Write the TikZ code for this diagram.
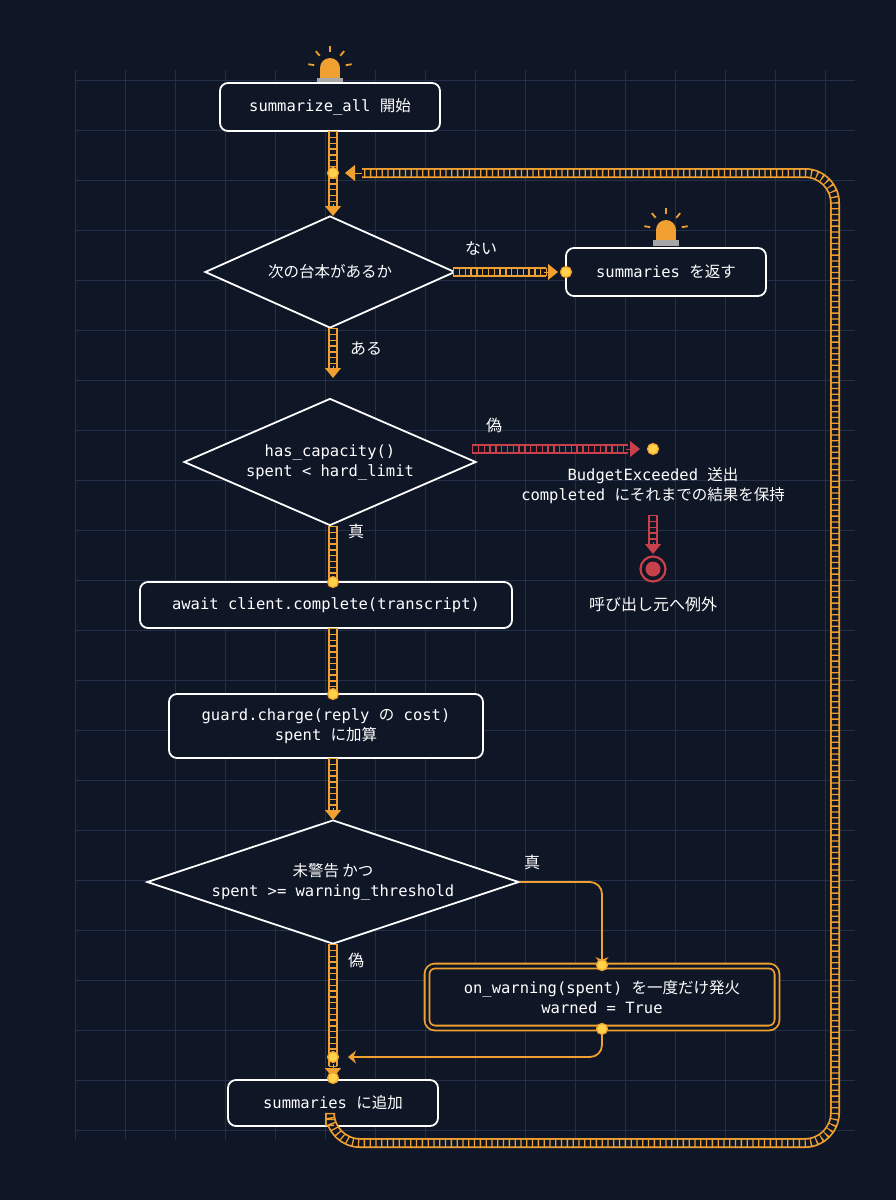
\documentclass[tikz,border=0pt]{standalone}
\usepackage{fontspec}
\setmainfont{DejaVu Sans Mono}
\newfontfamily\cjk{Noto Sans CJK JP}
\newcommand{\J}[1]{{\cjk #1}}
\usetikzlibrary{shapes.geometric,arrows.meta,calc}
\definecolor{bg}{HTML}{0F1626}
\definecolor{gridc}{HTML}{24304A}
\definecolor{org}{HTML}{F0A030}
\definecolor{rd}{HTML}{C8404A}
\definecolor{dotc}{HTML}{FFD24A}
\begin{document}
\begin{tikzpicture}[x=1pt,y=-1pt,font=\fontsize{15.5}{20}\selectfont,text=white,
 box/.style={draw=white,line width=1.8pt,rounded corners=8pt,fill=bg,align=center,inner sep=0pt},
 dia/.style={diamond,draw=white,line width=1.8pt,fill=bg,align=center,inner sep=0pt,aspect=2.3},
 rail/.style={preaction={draw=#1,line width=10pt},preaction={draw=bg,line width=6.5pt},draw=#1,line width=8pt,dash pattern=on 1.3pt off 4.5pt},
 rail/.default=org,
 tip/.style={draw=#1,line width=1pt,-{Triangle[width=16pt,length=10pt]}},
 tip/.default=org,
 dot/.style={circle,fill=dotc,draw=org,line width=1.2pt,minimum size=11pt,inner sep=0pt},
 lbl/.style={font=\cjk\fontsize{16}{18}\selectfont,text=white}]
\fill[bg] (0,0) rectangle (896,1200);
\useasboundingbox (0,0) rectangle (896,1200);
\foreach \x in {75,125,...,855} \draw[gridc,line width=0.6pt] (\x,70)--(\x,1140);
\foreach \y in {80,130,...,1140} \draw[gridc,line width=0.6pt] (75,\y)--(855,\y);
% alarm icons
\foreach \cx/\cy in {330/78,666/240}{
 \fill[gray!70] (\cx-13,\cy) rectangle (\cx+13,\cy+6);
 \fill[org] (\cx-10,\cy) rectangle (\cx+10,\cy-10);
 \fill[org] (\cx,\cy-10) circle (10);
 \foreach \a in {-10,-50,-90,-130,-170} \draw[org,line width=1.8pt] ($(\cx,\cy-10)+(\a:16)$) -- ($(\cx,\cy-10)+(\a:22)$);
}
% nodes
\node[box,minimum width=220pt,minimum height=48pt] (start) at (330,107) {summarize\_all \J{開始}};
\node[box,minimum width=200pt,minimum height=48pt] (ret) at (666,272) {summaries \J{を返す}};
\node[dia,minimum width=250pt,minimum height=112pt] (d1) at (330,272) {\J{次の台本があるか}};
\node[dia,minimum width=292pt,minimum height=127pt] (d2) at (330,462) {has\_capacity()\\spent < hard\_limit};
\node[box,minimum width=372pt,minimum height=46pt] (await) at (326,605) {await client.complete(transcript)};
\node[box,minimum width=314pt,minimum height=64pt] (guard) at (326,726) {guard.charge(reply \J{の} cost)\\spent \J{に加算}};
\node[dia,minimum width=372pt,minimum height=124pt,aspect=3] (d3) at (333,882) {\J{未警告 かつ}\\spent >= warning\_threshold};
\node[box,draw=org,double=bg,double distance=3pt,line width=1.8pt,minimum width=350pt,minimum height=62pt] (warn) at (602,997) {on\_warning(spent) \J{を一度だけ発火}\\warned = True};
\node[box,minimum width=210pt,minimum height=46pt] (add) at (333,1103) {summaries \J{に追加}};
\coordinate (j1) at (333,173);
\coordinate (j2) at (333,1057);
\coordinate (bx) at (653,449);
\node[circle,draw=rd,line width=2.2pt,fill=bg,minimum size=25pt,inner sep=0pt] (endx) at (653,569) {};
\fill[rd] (endx) circle (7.5pt);
% rails
\draw[rail] (333,131) -- (333,207);
\draw[tip] (333,204) -- (333,216);
\draw[rail] (453,272) -- (546,272);
\draw[tip] (544,272) -- (558,272);
\draw[rail] (333,328) -- (333,368);
\draw[tip] (333,366) -- (333,378);
\draw[rail=rd] (472,449) -- (628,449);
\draw[tip=rd] (626,449) -- (640,449);
\draw[rail=rd] (653,515) -- (653,545);
\draw[tip=rd] (653,542) -- (653,554);
\draw[rail] (333,526) -- (333,582);
\draw[rail] (333,628) -- (333,694);
\draw[rail] (333,758) -- (333,810);
\draw[tip] (333,808) -- (333,820);
\draw[rail] (333,944) -- (333,1066);
\draw[tip] (333,1064) -- (333,1078);
\draw[rail,rounded corners=30pt] (330,1126) -- (330,1143) -- (835,1143) -- (835,173) -- (362,173);
\draw[tip] (362,173) -- (345,173);
% thin lines
\draw[org,line width=1.8pt,rounded corners=12pt,-{Stealth[width=13pt,length=8pt]}] (d3.east) -- (602,882) -- (warn.north);
\draw[org,line width=1.8pt,rounded corners=12pt,-{Stealth[width=13pt,length=8pt]}] (warn.south) -- (602,1057) -- (348,1057);
% dots
\foreach \p in {j1,j2,bx} \node[dot] at (\p) {};
\node[dot] at (566,272) {};
\node[dot] at (333,582) {};
\node[dot] at (333,694) {};
\node[dot] at (warn.north) {};
\node[dot] at (warn.south) {};
\node[dot] at (333,1078) {};
% labels
\node[lbl] at (481,248) {ない};
\node[lbl] at (366,349) {ある};
\node[lbl] at (494,425) {偽};
\node[lbl] at (356,531) {真};
\node[lbl] at (532,862) {真};
\node[lbl] at (356,960) {偽};
\node[align=center] at (653,486) {BudgetExceeded \J{送出}\\completed \J{にそれまでの結果を保持}};
\node[lbl] at (653,604) {呼び出し元へ例外};
\end{tikzpicture}
\end{document}
